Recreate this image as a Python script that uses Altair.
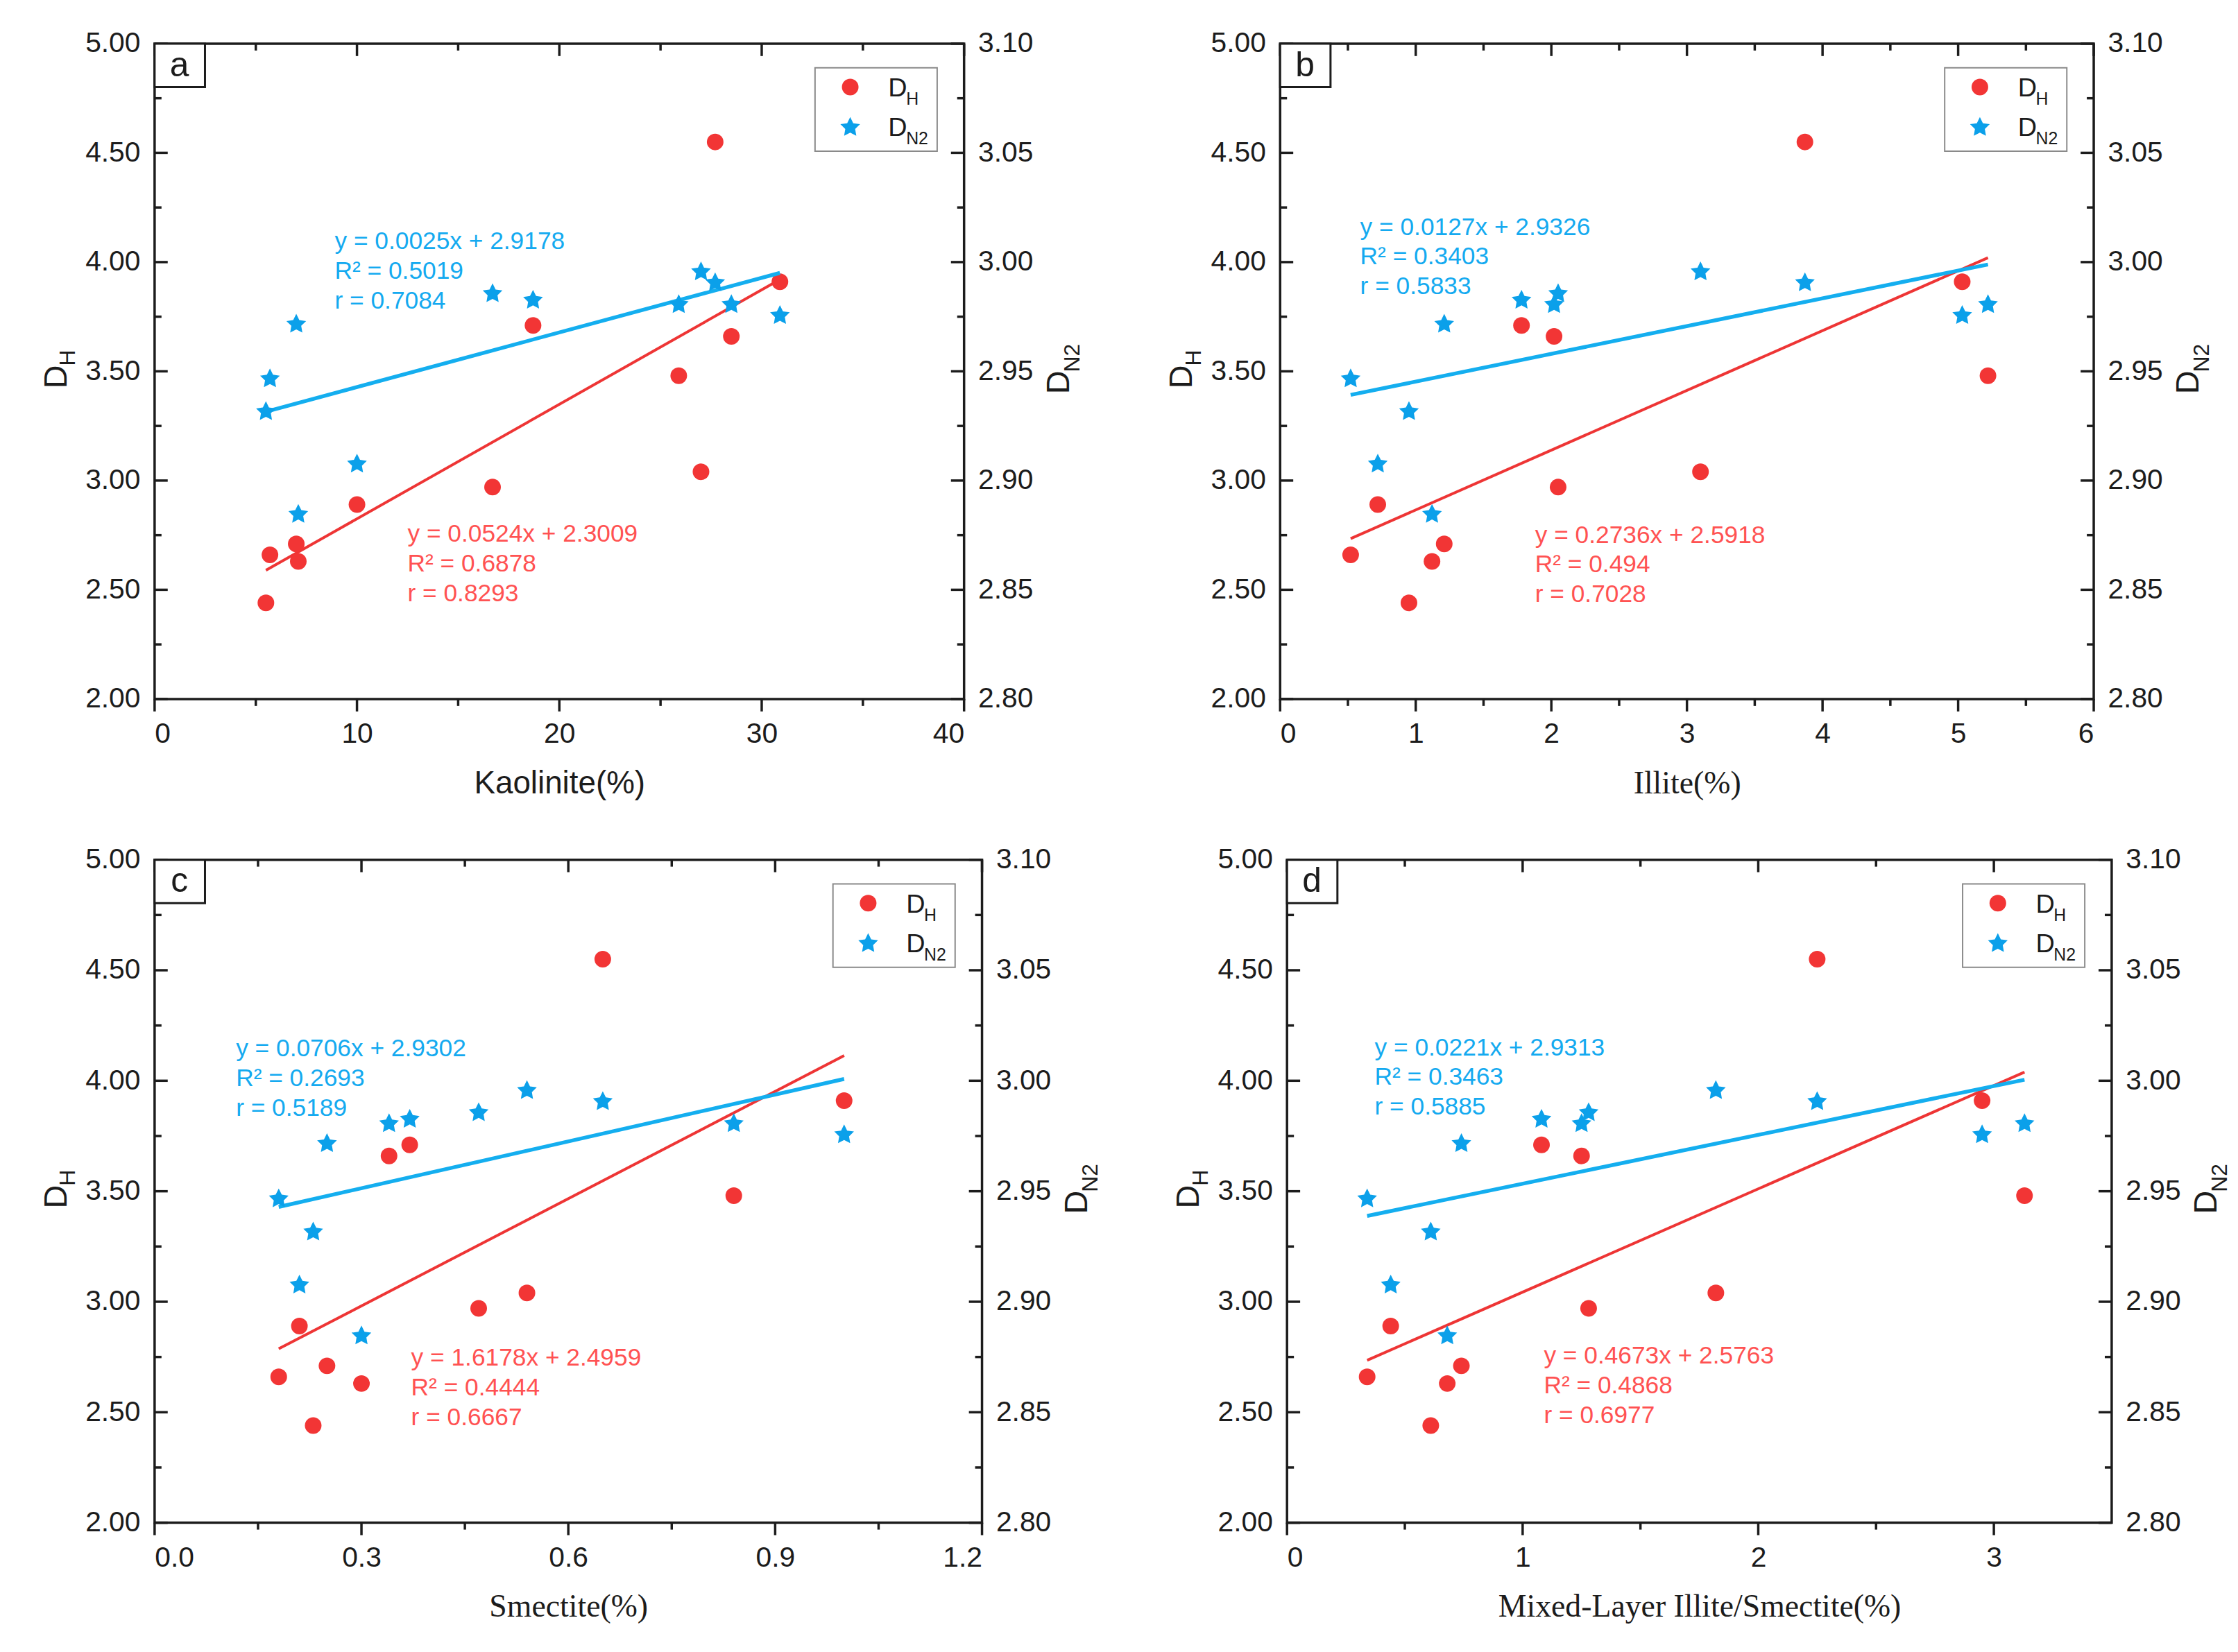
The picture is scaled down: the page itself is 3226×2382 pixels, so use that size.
import math

import altair as alt
import pandas as pd

# ---- data: the same 12 samples are plotted in every panel ----
d_h = [2.44, 2.63, 2.66, 2.71, 2.89, 2.97, 3.04, 3.48, 3.66, 3.71, 3.91, 4.55]
d_n2 = [2.932, 2.885, 2.947, 2.972, 2.908, 2.986, 2.996, 2.981, 2.981, 2.983, 2.976, 2.991]
kaolinite = [5.5, 7.1, 5.7, 7.0, 10.0, 16.7, 27.0, 25.9, 28.5, 18.7, 30.9, 27.7]
illite = [0.95, 1.12, 0.52, 1.21, 0.72, 2.05, 3.10, 5.22, 2.02, 1.78, 5.03, 3.87]
smectite = [0.23, 0.30, 0.18, 0.25, 0.21, 0.47, 0.54, 0.84, 0.34, 0.37, 1.00, 0.65]
mixed_layer = [0.61, 0.68, 0.34, 0.74, 0.44, 1.28, 1.82, 3.13, 1.25, 1.08, 2.95, 2.25]

x_values = [kaolinite, illite, smectite, mixed_layer]
panel_letters = ["a", "b", "c", "d"]
x_titles = ["Kaolinite(%)", "Illite(%)", "Smectite(%)", "Mixed-Layer Illite/Smectite(%)"]
x_domains = [[0, 40], [0, 6], [0, 1.2], [0, 3.5]]
x_major = [[0, 10, 20, 30, 40], [0, 1, 2, 3, 4, 5, 6], [0.0, 0.3, 0.6, 0.9, 1.2], [0, 1, 2, 3]]
x_minor = [[5, 15, 25, 35], [0.5, 1.5, 2.5, 3.5, 4.5, 5.5], [0.15, 0.45, 0.75, 1.05], [0.5, 1.5, 2.5]]
x_formats = ["d", "d", ".1f", "d"]

dh_major = [2.0, 2.5, 3.0, 3.5, 4.0, 4.5, 5.0]
dh_minor = [2.25, 2.75, 3.25, 3.75, 4.25, 4.75]
n2_major = [2.80, 2.85, 2.90, 2.95, 3.00, 3.05, 3.10]

# linear fits printed on the panels
dh_slope = [0.0524, 0.2736, 1.6178, 0.4673]
dh_icept = [2.3009, 2.5918, 2.4959, 2.5763]
dh_r2 = ["0.6878", "0.494", "0.4444", "0.4868"]
dh_r = ["0.8293", "0.7028", "0.6667", "0.6977"]
n2_slope = [0.0025, 0.0127, 0.0706, 0.0221]
n2_icept = [2.9178, 2.9326, 2.9302, 2.9313]
n2_r2 = ["0.5019", "0.3403", "0.2693", "0.3463"]
n2_r = ["0.7084", "0.5833", "0.5189", "0.5885"]

# where the equation blocks sit (x in data units, y on the D_H scale)
n2_eq_x = [8.9, 0.59, 0.118, 0.372]
n2_eq_y = [4.06, 4.125, 4.11, 4.115]
dh_eq_x = [12.5, 1.88, 0.372, 1.09]
dh_eq_y = [2.72, 2.715, 2.71, 2.72]

INK = "#1c1c1c"
RED = "#F23535"
RED_LINE = "#EE3535"
RED_TXT = "#FF5252"
BLUE = "#0BA0EA"
BLUE_LINE = "#14AEEF"
BLUE_TXT = "#14AAF0"
SANS = "Liberation Sans, Arial, sans-serif"
SERIF = "Liberation Serif, Times New Roman, serif"

# chunky five-pointed star inside the [-1, 1] box
_pts = []
for k in range(10):
    rad = 1.0 if k % 2 == 0 else 0.5
    ang = math.radians(-90 + 36 * k)
    _pts.append(f"{rad * math.cos(ang):.3f},{rad * math.sin(ang) + 0.095:.3f}")
STAR = "M" + "L".join(_pts) + "Z"

ONE = pd.DataFrame({"k": [0]})


def label(text, x, y, size, color=INK, angle=0, align="left", baseline="alphabetic", font=SANS):
    return alt.Chart(pd.DataFrame({"t": [text]})).mark_text(
        align=align, baseline=baseline, fontSize=size, angle=angle, font=font, color=color
    ).encode(x=alt.value(x), y=alt.value(y), text="t:N")


def panel(i, W, H, spacer=False):
    df = pd.DataFrame({"x": x_values[i], "dh": d_h, "dn2": d_n2})
    xscale = alt.Scale(domain=x_domains[i], nice=False, zero=False)
    xaxis = alt.Axis(
        values=x_major[i], format=x_formats[i], title=x_titles[i],
        titleFont=SANS if i == 0 else SERIF, titleFontSize=46, titlePadding=29,
        labelFontSize=41, labelPadding=31,
    )
    s_dh = alt.Scale(domain=[2, 5], nice=False, zero=False)
    s_n2 = alt.Scale(domain=[2.8, 3.1], nice=False, zero=False)
    ax_dh = alt.Axis(orient="left", values=dh_major, format=".2f", title=None, labelPadding=21)
    ax_n2 = alt.Axis(orient="right", values=n2_major, format=".2f", title=None, labelPadding=20)

    def X(f):
        return alt.X(f"{f}:Q", scale=xscale, axis=xaxis)

    def Y1(f):
        return alt.Y(f"{f}:Q", scale=s_dh, axis=ax_dh)

    def Y2(f):
        return alt.Y(f"{f}:Q", scale=s_n2, axis=ax_n2)

    layers = []
    # inward y ticks on both sides, x ticks out at bottom / in at top
    for vals, ln in ((dh_major, 19), (dh_minor, 10)):
        t = alt.Chart(pd.DataFrame({"v": vals})).mark_rule(color=INK, strokeWidth=3.5)
        layers.append(t.encode(y=Y1("v"), x=alt.value(0), x2=alt.value(ln)))
        layers.append(t.encode(y=Y1("v"), x=alt.value(W - ln), x2=alt.value(W)))
    for vals, ln in ((x_major[i], 18), (x_minor[i], 10)):
        t = alt.Chart(pd.DataFrame({"v": vals})).mark_rule(color=INK, strokeWidth=3.5)
        layers.append(t.encode(x=X("v"), y=alt.value(H), y2=alt.value(H + ln)))
        layers.append(t.encode(x=X("v"), y=alt.value(0), y2=alt.value(ln)))

    lo, hi = min(x_values[i]), max(x_values[i])
    fit_dh = pd.DataFrame({"x": [lo, hi], "y": [dh_slope[i] * lo + dh_icept[i], dh_slope[i] * hi + dh_icept[i]]})
    fit_n2 = pd.DataFrame({"x": [lo, hi], "y": [n2_slope[i] * lo + n2_icept[i], n2_slope[i] * hi + n2_icept[i]]})

    layers.append(alt.Chart(fit_dh).mark_line(color=RED_LINE, strokeWidth=4).encode(x=X("x"), y=Y1("y")))
    layers.append(
        alt.Chart(df).mark_point(shape="circle", filled=True, size=580, opacity=1, color=RED)
        .encode(x=X("x"), y=Y1("dh"))
    )

    eq_dh = pd.DataFrame({
        "x": [dh_eq_x[i]], "y": [dh_eq_y[i]],
        "t": [f"y = {dh_slope[i]:.4f}x + {dh_icept[i]:.4f}\nR\u00b2 = {dh_r2[i]}\nr = {dh_r[i]}"],
    })
    eq_n2 = pd.DataFrame({
        "x": [n2_eq_x[i]], "y": [n2_eq_y[i]],
        "t": [f"y = {n2_slope[i]:.4f}x + {n2_icept[i]:.4f}\nR\u00b2 = {n2_r2[i]}\nr = {n2_r[i]}"],
    })
    for eq, col in ((eq_dh, RED_TXT), (eq_n2, BLUE_TXT)):
        layers.append(
            alt.Chart(eq).mark_text(
                align="left", baseline="alphabetic", fontSize=35.5, lineHeight=43,
                lineBreak="\n", color=col, font=SANS,
            ).encode(x=X("x"), y=Y1("y"), text="t:N")
        )

    # panel letter box
    layers.append(
        alt.Chart(ONE).mark_rect(fill="white", stroke=INK, strokeWidth=3)
        .encode(x=alt.value(0), x2=alt.value(73), y=alt.value(0), y2=alt.value(63))
    )
    layers.append(label(panel_letters[i], 36, 32, 50, align="center", baseline="middle"))

    # legend
    lx = W - 216
    layers.append(
        alt.Chart(ONE).mark_rect(fill="white", stroke="#8a8a8a", strokeWidth=2)
        .encode(x=alt.value(lx), x2=alt.value(W - 39), y=alt.value(35), y2=alt.value(156))
    )
    layers.append(
        alt.Chart(ONE).mark_point(shape="circle", filled=True, size=580, opacity=1, color=RED)
        .encode(x=alt.value(lx + 51), y=alt.value(35 + 28))
    )
    layers.append(
        alt.Chart(ONE).mark_point(shape=STAR, filled=True, size=900, opacity=1, color=BLUE)
        .encode(x=alt.value(lx + 51), y=alt.value(35 + 85))
    )
    layers.append(label("D", lx + 106, 35 + 42, 38))
    layers.append(label("H", lx + 132, 35 + 54, 25))
    layers.append(label("D", lx + 106, 35 + 99, 38))
    layers.append(label("N2", lx + 132, 35 + 111, 25))

    # rotated axis titles with subscripts
    layers.append(label("D", -128, H / 2 + 25, 47, angle=270))
    layers.append(label("H", -115, H / 2 - 8, 32, angle=270))
    layers.append(label("D", W + 152, H / 2 + 33, 47, angle=270))
    layers.append(label("N2", W + 167, H / 2 + 1, 32, angle=270))

    if spacer:
        layers.append(
            alt.Chart(ONE).mark_rule(opacity=0)
            .encode(x=alt.value(-187), x2=alt.value(-186), y=alt.value(H / 2))
        )

    left = alt.layer(*layers)
    right = alt.layer(
        alt.Chart(fit_n2).mark_line(color=BLUE_LINE, strokeWidth=5.5).encode(x=X("x"), y=Y2("y")),
        alt.Chart(df).mark_point(shape=STAR, filled=True, size=900, opacity=1, color=BLUE)
        .encode(x=X("x"), y=Y2("dn2")),
    )
    return alt.layer(left, right).resolve_scale(y="independent").properties(width=W, height=H)


row1 = alt.hconcat(panel(0, 1173, 950, spacer=True), panel(1, 1179, 950), spacing=115)
row2 = alt.hconcat(panel(2, 1199, 961), panel(3, 1195, 961), spacing=99)

chart = (
    alt.vconcat(row1, row2, spacing=63)
    .properties(padding={"left": 27, "top": 26, "right": 0, "bottom": 0}, background="white")
    .configure_view(stroke=INK, strokeWidth=3.5)
    .configure_axis(
        labelFont=SANS, labelFontSize=41, labelColor=INK, ticks=False, domain=False,
        grid=False, titleColor=INK, titleFontWeight="normal",
    )
)

chart.save("out.html", embed_options={"renderer": "svg", "actions": False})
